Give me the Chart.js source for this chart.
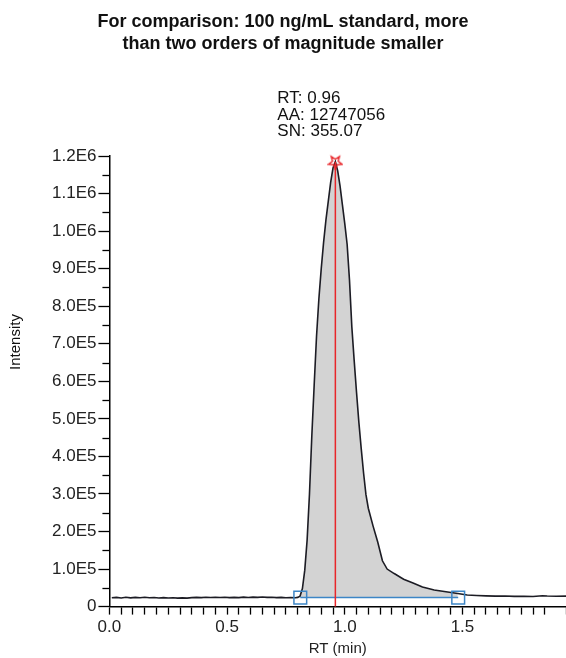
<!DOCTYPE html>
<html>
<head>
<meta charset="utf-8">
<script src="https://cdn.jsdelivr.net/npm/chart.js@4.4.1/dist/chart.umd.min.js"></script>
<style>
  html, body { margin: 0; padding: 0; background: #fff; }
  #wrap { width: 566px; height: 658px; position: relative; }
</style>
</head>
<body>
<div id="wrap"><canvas id="chrom" width="566" height="658"></canvas></div>
<script>
// chromatogram trace
const rtValues = [
  0.01, 0.03, 0.05, 0.07, 0.09, 0.11, 0.13, 0.15, 0.17, 0.19,
  0.21, 0.23, 0.25, 0.27, 0.29, 0.31, 0.33, 0.35, 0.37, 0.39,
  0.41, 0.43, 0.45, 0.47, 0.49, 0.51, 0.53, 0.55, 0.57, 0.59,
  0.61, 0.63, 0.65, 0.67, 0.69, 0.71, 0.73, 0.75, 0.77, 0.79,
  0.80, 0.81, 0.82, 0.83, 0.84, 0.85, 0.86, 0.87, 0.88, 0.89,
  0.90, 0.91, 0.92, 0.93, 0.94, 0.95, 0.96, 0.97, 0.98, 0.99,
  1.00, 1.01, 1.02, 1.03, 1.04, 1.05, 1.06, 1.07, 1.08, 1.09,
  1.10, 1.12, 1.14, 1.16, 1.18, 1.21, 1.25, 1.29, 1.33, 1.38,
  1.43, 1.48, 1.52, 1.56, 1.60, 1.64, 1.68, 1.72, 1.76, 1.80,
  1.84, 1.86, 1.90, 1.94
];
const intensityValues = [
  23500, 24500, 23000, 24800, 23200, 24600, 23400, 24900, 23600, 24300,
  23100, 24000, 22800, 23700, 22600, 23300, 22500, 23800, 24600, 23900,
  24800, 24100, 25000, 24200, 24700, 23800, 24500, 23900, 25100, 24400,
  25300, 24600, 25500, 24500, 24900, 24000, 24600, 23700, 24200, 23600,
  24500, 28000, 48000, 97000, 177000, 300000, 455000, 590000, 720000, 820000,
  900000, 970000, 1030000, 1080000, 1130000, 1168000, 1185000, 1160000, 1120000, 1070000,
  1020000, 965000, 870000, 745000, 655000, 570000, 490000, 420000, 355000, 298000,
  262000, 215000, 172000, 122000, 100000, 88000, 73000, 63000, 52000, 44000,
  39500, 35000, 31000, 29500, 28500, 27800, 28300, 27200, 27600, 26900,
  29000, 28200, 27500, 27800
];

// integration baseline and apex
const baselineRt = [0.811, 1.482];
const baselineLevel = 24000;
const apexRt = 0.96;
const apexIntensity = 1185000;
const peakLabels = ['RT: 0.96', 'AA: 12747056', 'SN: 355.07'];

const titleLines = ['For comparison: 100 ng/mL standard, more', 'than two orders of magnitude smaller'];
const xTickLabels = [0.0, 0.5, 1.0, 1.5];

const FONT = 'Liberation Sans, Arial, Helvetica, sans-serif';

const trace = rtValues.map((x, i) => ({x: x, y: intensityValues[i]}));
const peakArea = trace.filter(p => p.x >= baselineRt[0] - 0.005 && p.x <= baselineRt[1] + 0.005);

// open star marker for the apex
const star = document.createElement('canvas');
star.width = 16; star.height = 16;
(function(){
  const c = star.getContext('2d');
  c.strokeStyle = '#e8262a'; c.lineWidth = 1.4;
  c.beginPath();
  for (let i = 0; i < 10; i++) {
    const r = i % 2 ? 3 : 7;
    const a = Math.PI / 2 + i * Math.PI / 5;
    const px = 8 + r * Math.cos(a), py = 8.5 + r * Math.sin(a);
    i ? c.lineTo(px, py) : c.moveTo(px, py);
  }
  c.closePath(); c.stroke();
})();

const extras = {
  id: 'extras',
  afterDraw(chart){
    const ctx = chart.ctx, xs = chart.scales.x, ys = chart.scales.y;
    ctx.save();
    // minor y ticks
    ctx.strokeStyle = '#000'; ctx.lineWidth = 1.3;
    for (let v = 50000; v < 1200000; v += 100000) {
      const py = Math.round(ys.getPixelForValue(v)) + 0.5;
      ctx.beginPath(); ctx.moveTo(xs.left - 7, py); ctx.lineTo(xs.left, py); ctx.stroke();
    }
    // peak annotation
    ctx.fillStyle = '#111';
    ctx.font = '17px ' + FONT;
    ctx.textAlign = 'left'; ctx.textBaseline = 'alphabetic';
    const ax = xs.getPixelForValue(apexRt) - 58;
    peakLabels.forEach((t, i) => ctx.fillText(t, ax, 103 + i * 16.5));
    // title
    ctx.font = 'bold 18px ' + FONT;
    ctx.textAlign = 'center';
    titleLines.forEach((t, i) => ctx.fillText(t, 283, 27 + i * 22));
    // y axis title
    ctx.translate(16, 342);
    ctx.rotate(-Math.PI / 2);
    ctx.font = '15px ' + FONT;
    ctx.textAlign = 'center'; ctx.textBaseline = 'middle';
    ctx.fillText('Intensity', 0, 0);
    ctx.restore();
  }
};

new Chart(document.getElementById('chrom'), {
  type: 'scatter',
  data: {
    datasets: [
      {label: 'area', data: peakArea, showLine: true, pointRadius: 0, borderWidth: 0,
       backgroundColor: '#d3d3d3', fill: {value: baselineLevel}, order: 5},
      {label: 'trace', data: trace, showLine: true, pointRadius: 0, borderWidth: 1.6,
       borderColor: '#1c1c24', fill: false, order: 3},
      {label: 'baseline', data: baselineRt.map(x => ({x: x, y: baselineLevel})), showLine: true,
       borderColor: '#3d86c6', borderWidth: 1.5, pointStyle: 'rect', pointRadius: 9,
       pointBackgroundColor: 'rgba(0,0,0,0)', pointBorderColor: '#3d86c6', pointBorderWidth: 1.5, order: 2},
      {label: 'apex', data: [{x: apexRt, y: 0}, {x: apexRt, y: apexIntensity}], showLine: true,
       borderColor: '#e8262a', borderWidth: 1.5, pointRadius: [0, 8], pointStyle: star, order: 1}
    ]
  },
  options: {
    responsive: false,
    animation: false,
    clip: false,
    layout: {autoPadding: false, padding: {top: 156, left: 50, right: 0, bottom: 0}},
    plugins: {legend: {display: false}, tooltip: {enabled: false}},
    scales: {
      x: {
        type: 'linear', min: 0, max: 1.94,
        afterFit: s => { s.paddingRight = 0; },
        border: {color: '#000', width: 1.5},
        grid: {drawOnChartArea: false, tickLength: 8, tickColor: '#000', tickWidth: 1.3},
        ticks: {
          stepSize: 0.05, autoSkip: false, maxRotation: 0, color: '#222',
          font: {family: FONT, size: 17}, padding: 3,
          callback: v => xTickLabels.some(t => Math.abs(t - v) < 1e-6) ? v.toFixed(1) : ''
        },
        title: {display: true, text: 'RT (min)', color: '#222', font: {family: FONT, size: 15}, padding: {top: -1, bottom: 0}}
      },
      y: {
        min: 0, max: 1200000,
        border: {color: '#000', width: 1.5},
        grid: {drawOnChartArea: false, tickLength: 11, tickColor: '#000', tickWidth: 1.3},
        ticks: {
          stepSize: 100000, color: '#222', font: {family: FONT, size: 17}, padding: 2,
          callback: v => v === 0 ? '0' : v.toExponential(1).replace('e+', 'E')
        }
      }
    }
  },
  plugins: [extras]
});
</script>
</body>
</html>
